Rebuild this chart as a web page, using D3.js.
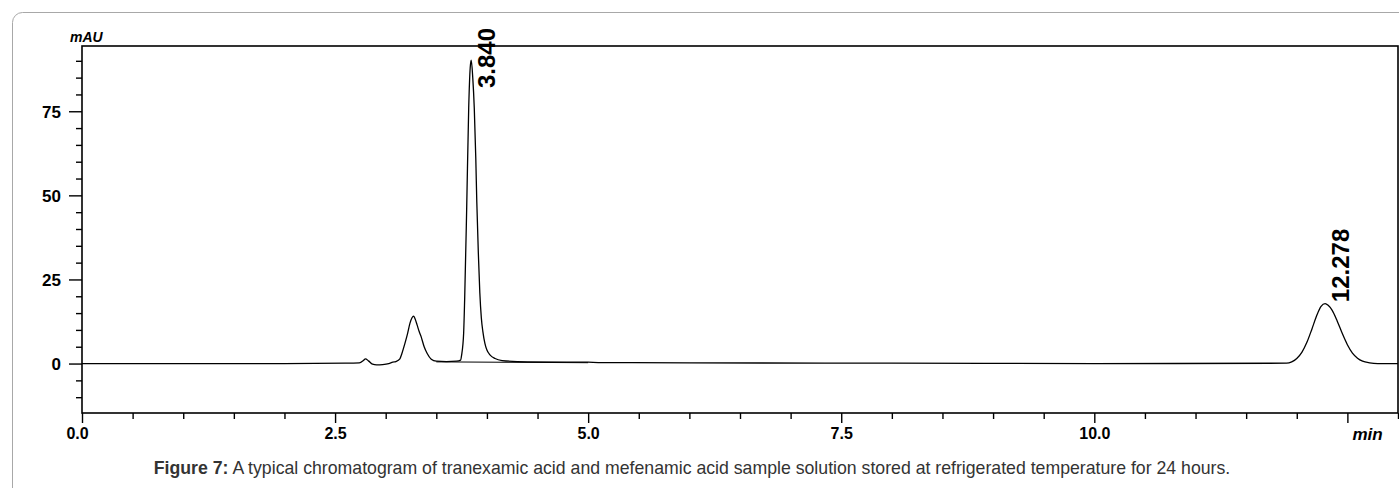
<!DOCTYPE html>
<html>
<head>
<meta charset="utf-8">
<script src="https://cdnjs.cloudflare.com/ajax/libs/d3/7.8.5/d3.min.js"></script>
<style>
  body { margin: 0; background: #fff; }
  svg { display: block; font-family: "Liberation Sans", Arial, sans-serif; }
  .trace { fill: none; stroke: #000; stroke-width: 1.3; }
  .baseline { fill: none; stroke: #000; stroke-width: 1; }
  .frame { fill: none; stroke: #000; stroke-width: 1.6; }
  .tick-label { font-size: 16px; font-weight: bold; fill: #000; }
  .unit { font-weight: bold; font-style: italic; fill: #000; }
  .peak-label { font-size: 24px; font-weight: bold; fill: #000; }
  .caption { font-size: 17.7px; fill: #333; }
</style>
</head>
<body>
<svg id="chrom"></svg>
<script>
// Chromatogram signal: [time (min), signal (mAU)]
var trace = [
  [0.00, 0.0], [1.00, 0.0], [2.00, 0.0], [2.60, 0.1], [2.74, 0.2],
  [2.78, 0.9], [2.80, 1.4], [2.83, 0.8], [2.87, -0.2], [2.91, -0.4],
  [2.97, -0.3], [3.03, 0.0], [3.07, 0.4], [3.10, 0.6], [3.14, 1.4],
  [3.16, 3.0], [3.19, 6.0], [3.216, 8.9], [3.24, 12.0], [3.26, 13.6],
  [3.275, 14.1], [3.29, 13.3], [3.31, 11.5], [3.33, 9.6], [3.35, 8.0],
  [3.38, 5.0], [3.41, 3.0], [3.45, 1.3], [3.50, 0.7], [3.60, 0.6],
  [3.70, 0.7], [3.74, 1.0], [3.75, 2.5], [3.77, 9.0], [3.78, 19.0],
  [3.80, 46.0], [3.82, 76.0], [3.835, 88.0], [3.845, 90.2], [3.86, 85.0],
  [3.875, 76.0], [3.89, 61.0], [3.90, 48.0], [3.915, 33.0], [3.93, 21.0],
  [3.945, 13.5], [3.96, 9.5], [3.98, 6.0], [4.00, 4.0], [4.03, 2.6],
  [4.08, 1.5], [4.15, 0.9], [4.40, 0.5], [5.00, 0.4], [5.10, 0.3],
  [6.00, 0.2], [8.00, 0.1], [10.00, 0.0], [11.90, 0.1], [11.95, 0.5],
  [12.00, 1.5], [12.05, 3.3], [12.10, 6.3], [12.15, 10.3], [12.20, 14.5],
  [12.24, 17.0], [12.28, 17.8], [12.31, 17.3], [12.35, 15.8], [12.40, 12.6],
  [12.45, 8.9], [12.50, 5.6], [12.55, 3.1], [12.60, 1.6], [12.65, 0.7],
  [12.72, 0.2], [12.80, 0.0], [13.00, 0.0]
];

// integration baseline drawn under the main peak
var baseline = [[3.50, 0.5], [5.00, 0.25]];

// retention time labels
var peakRT = ["3.840", "12.278"];
var peakTime = [3.845, 12.28];
var peakHeight = [90.2, 17.8];

var xMajor = [0, 2.5, 5, 7.5, 10, 12.5];
var xLabels = ["0.0", "2.5", "5.0", "7.5", "10.0", ""];
var yMajor = [0, 25, 50, 75];

var width = 1399;
var height = 488;
var margin = {"top": 46, "bottom": 75, "left": 82, "right": 1};

var svg = d3.select("svg#chrom")
  .attr("width", width)
  .attr("height", height);

// card border around the figure
svg.append("rect")
  .attr("x", 12.5)
  .attr("y", 12.5)
  .attr("width", 1430)
  .attr("height", 520)
  .attr("rx", 10)
  .attr("fill", "none")
  .attr("stroke", "#a8a8a8")
  .attr("stroke-width", 1);

var plotW = width - margin.left - margin.right;
var plotH = height - margin.top - margin.bottom;

var g = svg.append("g")
  .attr("transform", "translate(" + margin.left + "," + margin.top + ")");

var xScale = d3.scaleLinear()
  .domain([0, 13])
  .range([0, plotW]);

var yScale = d3.scaleLinear()
  .domain([-14.7, 94.4])
  .range([plotH, 0]);

// minor ticks first, then the majors on top
var xMinor = d3.range(0, 13.01, 0.5).filter(function(d) { return xMajor.indexOf(d) < 0; });
var yMinor = d3.range(-10, 91, 5).filter(function(d) { return yMajor.indexOf(d) < 0; });

var xAxisMinor = d3.axisBottom(xScale).tickValues(xMinor).tickSize(6).tickFormat("");
var xAxisMajor = d3.axisBottom(xScale).tickValues(xMajor).tickSize(10)
  .tickFormat(function(d, i) { return xLabels[i]; });
var yAxisMinor = d3.axisLeft(yScale).tickValues(yMinor).tickSize(6).tickFormat("");
var yAxisMajor = d3.axisLeft(yScale).tickValues(yMajor).tickSize(13).tickFormat(d3.format("d"));

g.append("g")
  .attr("transform", "translate(0," + plotH + ")")
  .call(xAxisMinor);
g.append("g")
  .attr("class", "xAxis")
  .attr("transform", "translate(0," + plotH + ")")
  .call(xAxisMajor);
g.append("g").call(yAxisMinor);
g.append("g").attr("class", "yAxis").call(yAxisMajor);

g.selectAll(".tick line").attr("stroke", "#000").attr("stroke-width", 1.4);
g.selectAll(".domain").remove();

g.selectAll(".xAxis .tick text")
  .attr("class", "tick-label")
  .attr("y", 15)
  .attr("dy", "0.71em");
g.select(".xAxis .tick text").attr("dx", -5);

g.selectAll(".yAxis .tick text")
  .attr("class", "tick-label")
  .style("font-size", "17px")
  .attr("x", -21)
  .attr("dy", "0.35em");

// plot frame
g.append("rect")
  .attr("class", "frame")
  .attr("width", plotW)
  .attr("height", plotH);

// unit labels
g.append("text")
  .attr("class", "unit")
  .attr("x", -12)
  .attr("y", -4.5)
  .style("font-size", "14px")
  .text("mAU");

g.append("text")
  .attr("class", "unit")
  .attr("x", xScale(12.7))
  .attr("y", plotH + 27)
  .style("text-anchor", "middle")
  .style("font-size", "17px")
  .text("min");

var line = d3.line()
  .x(function(d) { return xScale(d[0]); })
  .y(function(d) { return yScale(d[1]); })
  .curve(d3.curveMonotoneX);

g.append("path")
  .attr("class", "baseline")
  .attr("d", line(baseline));

g.append("path")
  .attr("class", "trace")
  .attr("d", line(trace));

// rotated retention time labels, pushed down if they would run off the top
var labels = g.selectAll("text.peak-label")
  .data(peakRT)
  .enter()
  .append("text")
  .attr("class", "peak-label")
  .text(function(d) { return d; });

labels.attr("transform", function(d, i) {
  var len = this.getComputedTextLength();
  var y = yScale(peakHeight[i]) - 1.5;
  if (y - len < -18) { y = -18 + len; }
  return "translate(" + (xScale(peakTime[i]) + 24) + "," + y + ") rotate(-90)";
});

// caption
var caption = svg.append("text")
  .attr("class", "caption")
  .attr("x", 692)
  .attr("y", 474)
  .style("text-anchor", "middle");
caption.append("tspan").style("font-weight", "bold").text("Figure 7:");
caption.append("tspan").text(" A typical chromatogram of tranexamic acid and mefenamic acid sample solution stored at refrigerated temperature for 24 hours.");
</script>
</body>
</html>
